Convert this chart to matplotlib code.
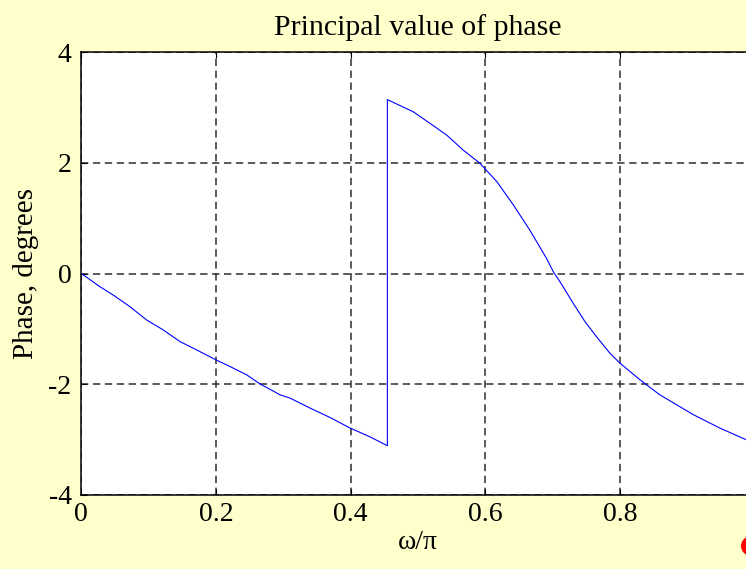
import matplotlib
matplotlib.use('Agg')
import matplotlib.pyplot as plt
from matplotlib.patches import Circle

# **** phase samples (normalised frequency, radians) ****
w_lo = [0.0, 0.0278, 0.0475, 0.0723, 0.0971, 0.1218, 0.1466, 0.1713, 0.2, 0.2208,
        0.2456, 0.2654, 0.280, 0.295, 0.310, 0.3396, 0.3693, 0.399, 0.4288, 0.4545]
ph_lo = [0.0, -0.24, -0.39, -0.60, -0.84, -1.02, -1.23, -1.38, -1.56, -1.68,
         -1.83, -1.995, -2.09, -2.19, -2.25, -2.43, -2.60, -2.79, -2.95, -3.11]

w_hi = [0.4545, 0.493, 0.518, 0.5426, 0.567, 0.592, 0.601, 0.617, 0.6415, 0.666,
        0.691, 0.701, 0.7109, 0.7306, 0.748, 0.765, 0.785, 0.80, 0.8297, 0.859,
        0.909, 0.948, 0.987, 1.0]
ph_hi = [3.14, 2.92, 2.71, 2.50, 2.23, 1.99, 1.87, 1.66, 1.24, 0.785,
         0.27, 0.03, -0.15, -0.54, -0.87, -1.14, -1.44, -1.62, -1.92, -2.19,
         -2.55, -2.79, -3.00, -3.07]

# the axes run past the right edge of the figure, so the '1' label is not drawn
x_ticks = [0, 0.2, 0.4, 0.6, 0.8]
x_labels = ['0', '0.2', '0.4', '0.6', '0.8']
y_ticks = [-4, -2, 0, 2, 4]
y_labels = ['-4', '-2', '0', '2', '4']

plt.rcParams['font.family'] = ['Liberation Serif', 'DejaVu Serif']

# **** figure and axes ****
fig = plt.figure(figsize=(7.46, 5.69), dpi=100, facecolor='#FFFFCC')
ax = fig.add_axes([81.3 / 746, 74 / 569, 673.4 / 746, 443 / 569])
ax.set_facecolor('white')

# **** phase curve (wrapped) ****
ax.plot(w_lo + w_hi, ph_lo + ph_hi, color='#0000FF', linewidth=0.8)

ax.set_xlim(0, 1)
ax.set_ylim(-4, 4)
ax.set_xticks(x_ticks)
ax.set_xticklabels(x_labels)
ax.set_yticks(y_ticks)
ax.set_yticklabels(y_labels)
ax.tick_params(direction='in', length=4, width=0.8, labelsize=20,
               top=True, right=True, colors='black')
ax.tick_params(axis='x', pad=5)
ax.tick_params(axis='y', pad=7)

# **** dashed grid at x = 1 sits on the clipped right edge ****
ax.grid(True, color='#2e2e2e', linestyle=(0, (4.8, 3.0)), linewidth=1.1)
for s in ax.spines.values():
    s.set_linewidth(1.1)
    s.set_color('black')

ax.set_title('Principal value of phase', fontsize=21.5, pad=12)
ax.set_xlabel('ω/π', fontsize=20, labelpad=2)
ax.set_ylabel('Phase, degrees', fontsize=21, labelpad=7)

# **** red marker in the corner ****
fig.add_artist(Circle((7.507, 0.23), 0.09, transform=fig.dpi_scale_trans,
                      color='red', clip_on=False))

fig.savefig('out.png', dpi=100, facecolor=fig.get_facecolor())
